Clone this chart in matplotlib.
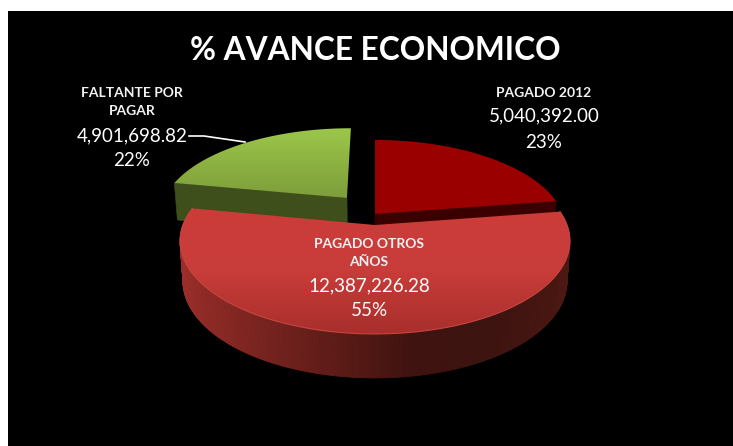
import numpy as np
import matplotlib
matplotlib.use("Agg")
import matplotlib.pyplot as plt
from matplotlib.colors import LinearSegmentedColormap
from matplotlib.collections import PolyCollection
from matplotlib.patches import Polygon, Rectangle

title = "% AVANCE ECONOMICO"
names = ["PAGADO 2012", "PAGADO OTROS\nAÑOS", "FALTANTE POR\nPAGAR"]
values = [5040392.00, 12387226.28, 4901698.82]

# perspective of the pie, worked out from the picture (pixels)
XC, YC = 375, 225
A, B, K = 192, 90.2, 0.172


def project(u, v):
    w = 1 - K * v
    return XC + A * u / w, YC + B * v / w


def rim(a0, a1, offset, n=160):
    # angles clockwise from 12 o'clock
    a = np.radians(np.linspace(a0, a1, n))
    return project(offset[0] + np.sin(a), offset[1] - np.cos(a))


def lower(x, y, v):
    # same points on the bottom of the pie
    return XC + (x - XC) * 0.985, y + 39.3 + 4.67 * v


def gradient_face(ax, x, y, colors, zorder):
    poly = Polygon(np.column_stack([x, y]), closed=True, transform=ax.transData,
                   facecolor="none", edgecolor="none")
    ax.add_patch(poly)
    cmap = LinearSegmentedColormap.from_list("face", colors)
    img = ax.imshow(np.linspace(0, 1, 256).reshape(-1, 1), cmap=cmap, aspect="auto",
                    extent=[x.min(), x.max(), y.max(), y.min()], zorder=zorder)
    img.set_clip_path(poly)


def flat_side(ax, offset, angle, color, zorder):
    # the cut face of a wedge, from centre to rim
    ax_, ay_ = project(offset[0], offset[1])
    a = np.radians(angle)
    u, v = offset[0] + np.sin(a), offset[1] - np.cos(a)
    rx, ry = project(u, v)
    bx0, by0 = lower(ax_, ay_, offset[1])
    bx1, by1 = lower(rx, ry, v)
    ax.add_patch(Polygon([(ax_, ay_), (rx, ry), (bx1, by1), (bx0, by0)],
                         facecolor=color, edgecolor=color, lw=0.5, zorder=zorder))


total = sum(values)
edges = np.concatenate([[0], np.cumsum(values)]) / total * 360
pct = [f"{v / total * 100:.0f}%" for v in values]
amount = [f"{v:,.2f}" for v in values]

plt.rcParams["font.family"] = ["Lato", "DejaVu Sans"]
fig = plt.figure(figsize=(7.33, 4.46), dpi=100, facecolor="white")
ax = fig.add_axes([0, 0, 1, 1])
ax.axis("off")
ax.add_patch(Rectangle((8, 11), 725, 435, facecolor="black", edgecolor="none", zorder=0))

# PAGADO 2012
off = (0.0, -0.125)
flat_side(ax, off, edges[1], "#3a0000", 1)
x, y = rim(edges[0], edges[1], off)
ax.fill(np.r_[project(*off)[0], x], np.r_[project(*off)[1], y], color="#9b0000", lw=0, zorder=2)

# FALTANTE POR PAGAR
off = (-0.154, -0.3156)
flat_side(ax, off, edges[2], "#3f4f1b", 3)
x, y = rim(edges[2], edges[3], off)
gradient_face(ax, np.r_[project(*off)[0], x], np.r_[project(*off)[1], y],
              ["#9cc74a", "#7d9d3b"], 4)

# PAGADO OTROS AÑOS
off = (0.0, 0.0)
x, y = rim(edges[1], edges[2], off, n=240)
a = np.radians(np.linspace(edges[1], edges[2], 240))
bx, by = lower(x, y, -np.cos(a))
side_cmap = LinearSegmentedColormap.from_list(
    "side", ["#9a2e2a", "#7a2420", "#5e1c18", "#3f1310", "#3d1410", "#4d1813"])
quads = [[(x[i], y[i]), (x[i + 1], y[i + 1]), (bx[i + 1], by[i + 1]), (bx[i], by[i])]
         for i in range(len(x) - 1)]
shade = side_cmap((x[:-1] - 180) / 390)
ax.add_collection(PolyCollection(quads, facecolors=shade, edgecolors=shade, linewidths=0.6, zorder=5))
fx, fy = np.r_[project(*off)[0], x], np.r_[project(*off)[1], y]
gradient_face(ax, fx, fy, ["#cc3d3a", "#c83c39", "#a82f2c"], 6)
ax.plot(x, y, color="#c8453e", lw=0.8, zorder=7)

ax.set_xlim(0, 733)
ax.set_ylim(446, 0)

ax.text(375, 51, title, color="white", fontsize=22.8, fontweight="bold", ha="center", va="center", zorder=10)

small = dict(color="#f2f2f2", fontsize=10, fontweight="bold", ha="center", va="center", zorder=10)
big = dict(color="white", fontsize=13.5, ha="center", va="center", zorder=10)

ax.text(544, 93, names[0], **small)
ax.text(544, 116, amount[0], **big)
ax.text(544, 142, pct[0], **big)

ax.text(132, 102, names[2], linespacing=1.6, **small)
ax.text(132, 136, amount[2], **big)
ax.text(132, 161, pct[2], **big)

ax.text(369, 253, names[1], linespacing=1.6, **small)
ax.text(369, 286, amount[1], **big)
ax.text(369, 311, pct[1], **big)

ax.plot([189, 204, 245], [136, 136, 142], color="white", lw=1.2, zorder=9)

fig.savefig("out.png", dpi=100, facecolor="white")
